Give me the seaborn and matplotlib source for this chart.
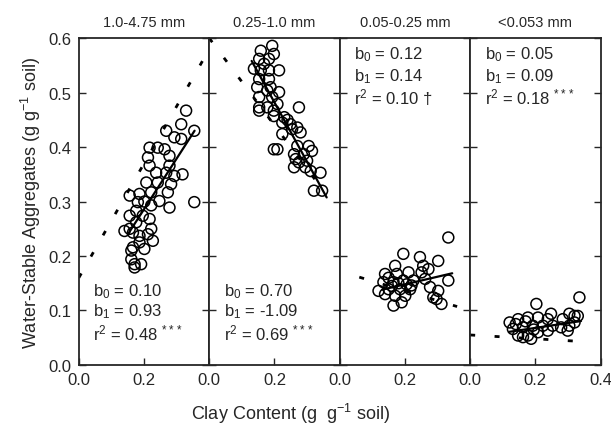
import numpy as np
import pandas as pd
import matplotlib
matplotlib.use("Agg")
import matplotlib.pyplot as plt
import seaborn as sns

# size classes (panel titles)
size_classes = ["1.0-4.75 mm", "0.25-1.0 mm", "0.05-0.25 mm", "<0.053 mm"]

# clay content (x) and water-stable aggregates (y)
clay_1 = [0.329, 0.314, 0.268, 0.354, 0.293, 0.314, 0.217, 0.242, 0.263, 0.278,
          0.212, 0.217, 0.237, 0.268, 0.318, 0.293, 0.207, 0.242, 0.283, 0.273,
          0.222, 0.186, 0.156, 0.247, 0.278, 0.354, 0.181, 0.222, 0.176, 0.156,
          0.196, 0.176, 0.156, 0.217, 0.222, 0.140, 0.166, 0.186, 0.212, 0.227,
          0.186, 0.166, 0.201, 0.161, 0.161, 0.171, 0.191, 0.171, 0.278, 0.201]
wsa_1 = [0.467, 0.442, 0.430, 0.430, 0.418, 0.415, 0.399, 0.399, 0.396, 0.384,
         0.381, 0.366, 0.353, 0.353, 0.350, 0.347, 0.335, 0.335, 0.332, 0.317,
         0.317, 0.314, 0.311, 0.301, 0.289, 0.299, 0.299, 0.293, 0.283, 0.274,
         0.274, 0.262, 0.250, 0.268, 0.250, 0.246, 0.243, 0.237, 0.240, 0.228,
         0.225, 0.216, 0.213, 0.210, 0.194, 0.185, 0.185, 0.179, 0.366, 0.300]

clay_2 = [0.193, 0.158, 0.198, 0.183, 0.153, 0.168, 0.137, 0.158, 0.183, 0.214,
          0.153, 0.183, 0.147, 0.178, 0.214, 0.193, 0.153, 0.275, 0.153, 0.178,
          0.198, 0.209, 0.153, 0.198, 0.224, 0.249, 0.270, 0.280, 0.224, 0.254,
          0.198, 0.209, 0.270, 0.305, 0.260, 0.290, 0.315, 0.265, 0.300, 0.275,
          0.260, 0.295, 0.341, 0.311, 0.321, 0.346, 0.188, 0.230, 0.240]
wsa_2 = [0.586, 0.577, 0.571, 0.562, 0.562, 0.553, 0.544, 0.541, 0.541, 0.541,
         0.525, 0.525, 0.510, 0.504, 0.501, 0.492, 0.492, 0.473, 0.473, 0.473,
         0.467, 0.479, 0.467, 0.457, 0.445, 0.442, 0.436, 0.427, 0.424, 0.433,
         0.396, 0.396, 0.402, 0.402, 0.387, 0.387, 0.393, 0.378, 0.375, 0.372,
         0.363, 0.363, 0.353, 0.356, 0.320, 0.320, 0.510, 0.455, 0.450]

clay_3 = [0.195, 0.246, 0.302, 0.170, 0.256, 0.139, 0.175, 0.211, 0.251, 0.272,
          0.134, 0.165, 0.195, 0.226, 0.333, 0.119, 0.150, 0.185, 0.216, 0.277,
          0.302, 0.139, 0.170, 0.201, 0.287, 0.165, 0.190, 0.297, 0.312, 0.220,
          0.262, 0.333, 0.150, 0.180, 0.160, 0.205]
wsa_3 = [0.204, 0.198, 0.191, 0.182, 0.182, 0.167, 0.167, 0.170, 0.170, 0.176,
         0.152, 0.152, 0.155, 0.155, 0.155, 0.136, 0.139, 0.139, 0.139, 0.143,
         0.136, 0.130, 0.127, 0.127, 0.124, 0.109, 0.115, 0.121, 0.112, 0.146,
         0.158, 0.234, 0.160, 0.150, 0.145, 0.148]

clay_4 = [0.203, 0.335, 0.121, 0.147, 0.177, 0.208, 0.248, 0.304, 0.330, 0.131,
          0.162, 0.192, 0.223, 0.253, 0.279, 0.304, 0.147, 0.177, 0.208, 0.238,
          0.299, 0.320, 0.162, 0.187, 0.284, 0.238, 0.320, 0.140, 0.170, 0.195]
wsa_4 = [0.112, 0.124, 0.078, 0.084, 0.087, 0.087, 0.094, 0.094, 0.090, 0.066,
         0.069, 0.072, 0.072, 0.072, 0.069, 0.072, 0.054, 0.054, 0.060, 0.063,
         0.063, 0.078, 0.051, 0.048, 0.084, 0.084, 0.090, 0.075, 0.080, 0.065]

clay = [clay_1, clay_2, clay_3, clay_4]
wsa = [wsa_1, wsa_2, wsa_3, wsa_4]

# fitted regression (solid) b0, b1 and x range
b0 = [0.10, 0.70, 0.12, 0.05]
b1 = [0.93, -1.09, 0.14, 0.09]
fit_range = [(0.15, 0.355), (0.13, 0.36), (0.13, 0.345), (0.12, 0.34)]
r2_text = ["0.48 $^{***}$", "0.69 $^{***}$", "0.10 \u2020", "0.18 $^{***}$"]

# dashed reference line (intercept, slope, x range)
ref_b0 = [0.16, 0.60, 0.172, 0.055]
ref_b1 = [1.05, -0.80, -0.18, -0.035]
ref_range = [(0.0, 0.39), (0.0, 0.34), (0.06, 0.36), (0.0, 0.37)]

# where the coefficient text goes in each panel (top or bottom)
text_pos = ["bottom", "bottom", "top", "top"]

sns.set_style("ticks")
plt.rcParams["font.family"] = ["Liberation Sans", "DejaVu Sans"]
plt.rcParams["mathtext.fontset"] = "custom"
plt.rcParams["mathtext.rm"] = "Liberation Sans"
plt.rcParams["mathtext.it"] = "Liberation Sans"

fig, axes = plt.subplots(1, 4, figsize=(6.11, 4.31), dpi=100, sharey=True)
fig.subplots_adjust(left=0.129, right=0.983, top=0.909, bottom=0.151, wspace=0)

for i, ax in enumerate(axes):
    df = pd.DataFrame({"clay": clay[i], "wsa": wsa[i]})
    sns.scatterplot(data=df, x="clay", y="wsa", ax=ax, marker="o", s=62,
                    facecolor="none", edgecolor="black", linewidth=1.1,
                    zorder=3)

    xs = np.array(fit_range[i])
    ax.plot(xs, b0[i] + b1[i] * xs, color="black", lw=1.6, zorder=4)

    xr = np.linspace(ref_range[i][0], ref_range[i][1], 50)
    ax.plot(xr, ref_b0[i] + ref_b1[i] * xr, color="black", lw=2.0,
            linestyle=(0, (1.8, 7.0)), zorder=2)

    ax.set_xlim(0, 0.4)
    ax.set_ylim(0, 0.6)
    ax.set_xticks([0.0, 0.2, 0.4])
    if i < 3:
        ax.set_xticklabels(["0.0", "0.2", ""])
    else:
        ax.set_xticklabels(["0.0", "0.2", "0.4"])
    ax.set_yticks(np.arange(0, 0.61, 0.1))
    ax.set_yticklabels([f"{v:.1f}" for v in np.arange(0, 0.61, 0.1)])
    ax.tick_params(direction="in", length=5, width=1.0, labelsize=12,
                   right=True, pad=5)
    ax.set_xlabel("")
    ax.set_ylabel("")
    for sp in ax.spines.values():
        sp.set_linewidth(1.3)
        sp.set_visible(True)

    ax.set_title(size_classes[i], fontsize=10.5, pad=9)

    lines = [f"b$_0$ = {b0[i]:.2f}", f"b$_1$ = {b1[i]:.2f}",
             f"r$^2$ = {r2_text[i]}"]
    if text_pos[i] == "bottom":
        ys = [0.136, 0.099, 0.060]
    else:
        ys = [0.571, 0.532, 0.493]
    for t, yy in zip(lines, ys):
        ax.text(0.045, yy, t, fontsize=12, va="center", ha="left")

axes[0].set_ylabel("Water-Stable Aggregates (g g$^{-1}$ soil)", fontsize=13)
fig.supxlabel("Clay Content (g  g$^{-1}$ soil)", fontsize=13,
              x=0.475, y=0.012)

fig.savefig("out.png", dpi=100)
